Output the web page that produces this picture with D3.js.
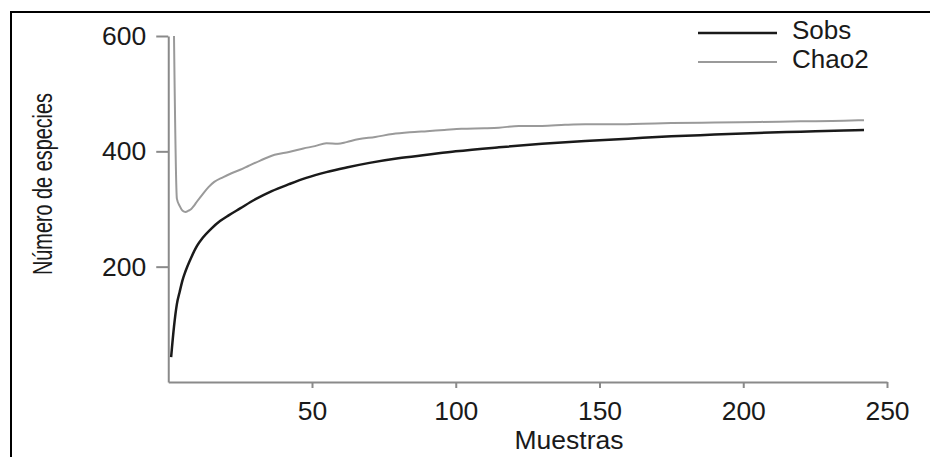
<!DOCTYPE html>
<html>
<head>
<meta charset="utf-8">
<script src="https://cdn.jsdelivr.net/npm/d3@7"></script>
<style>
  body { margin: 0; background: #fff; }
  text { font-family: "Liberation Sans", Arial, sans-serif; fill: #1a1a1a; }
</style>
</head>
<body>
<div id="chart"></div>
<script>
// Sobs (observed species) by number of samples
const sobsSamples = [1, 2, 3, 4, 5, 6, 8, 10, 12, 15, 18, 21, 25, 30, 36, 42, 48, 55, 62, 70, 80, 90, 100, 115, 130, 145, 160, 175, 190, 205, 220, 235, 242];
const sobsValues  = [43, 96, 135, 157, 177, 192, 216, 236, 250, 266, 279, 289, 301, 316, 331, 343, 354, 364, 372, 380, 388, 394, 400, 407, 413, 418, 422, 426, 429, 432, 434, 436, 437];

// Chao2 estimator by number of samples (first value runs off the top of the axis)
const chaoSamples = [2, 3, 4, 5, 6, 7, 8, 9, 10, 12, 14, 16, 19, 22, 25, 28, 32, 37, 42, 47, 51, 55, 59, 62, 66, 72, 78, 84, 90, 96, 102, 110, 115, 122, 130, 138, 145, 155, 165, 175, 190, 206, 220, 235, 242];
const chaoValues  = [600, 318, 305, 297, 295, 297, 300, 306, 313, 326, 338, 347, 355, 362, 368, 375, 384, 394, 399, 405, 409, 414, 413, 416, 421, 425, 430, 433, 435, 437, 439, 440, 441, 444, 444, 446, 447, 447, 448, 449, 450, 451, 452, 453, 454];

const xTicks = [50, 100, 150, 200, 250];
const yTicks = [200, 400, 600];
const seriesNames = ["Sobs", "Chao2"];

const width = 930, height = 457;

const svg = d3.select("#chart")
    .append("svg")
    .attr("width", width)
    .attr("height", height);

// outer frame (right and bottom edges fall outside the picture)
svg.append("rect")
    .attr("x", 11)
    .attr("y", 12)
    .attr("width", 960)
    .attr("height", 500)
    .attr("fill", "none")
    .attr("stroke", "#000")
    .attr("stroke-width", 2);

const xScale = d3.scaleLinear().domain([0, 250]).range([168.25, 887]);
const yScale = d3.scaleLinear().domain([0, 600]).range([382, 36]);

// X axis
const xAxis = svg.append("g")
    .attr("transform", `translate(0,${yScale(0)})`)
    .call(d3.axisBottom(xScale).tickValues(xTicks).tickSize(6).tickPadding(13).tickSizeOuter(0));

// Y axis
const yAxis = svg.append("g")
    .attr("transform", `translate(${xScale(0)},0)`)
    .call(d3.axisLeft(yScale).tickValues(yTicks).tickSize(12).tickPadding(10).tickSizeOuter(0));

[xAxis, yAxis].forEach(ax => {
    ax.select(".domain").attr("stroke", "#8a8a8a").attr("stroke-width", 2);
    ax.selectAll(".tick line").attr("stroke", "#8a8a8a").attr("stroke-width", 2);
    ax.selectAll(".tick text")
        .style("font-family", "'Liberation Sans', Arial, sans-serif")
        .style("font-size", "26.5px")
        .attr("fill", "#1a1a1a");
});

// Axis labels
svg.append("text")
    .attr("x", 569)
    .attr("y", 449)
    .attr("text-anchor", "middle")
    .style("font-size", "26.5px")
    .text("Muestras");

svg.append("text")
    .attr("transform", "translate(52,184) rotate(-90)")
    .attr("text-anchor", "middle")
    .attr("textLength", 182)
    .attr("lengthAdjust", "spacingAndGlyphs")
    .style("font-size", "28px")
    .text("Número de especies");

// Lines
const line = d3.line()
    .x(d => xScale(d[0]))
    .y(d => yScale(d[1]))
    .curve(d3.curveMonotoneX);

const chaoData = d3.zip(chaoSamples, chaoValues);
const sobsData = d3.zip(sobsSamples, sobsValues);

svg.append("path")
    .datum(chaoData)
    .attr("d", line)
    .attr("fill", "none")
    .attr("stroke", "#9a9a9a")
    .attr("stroke-width", 2);

svg.append("path")
    .datum(sobsData)
    .attr("d", line)
    .attr("fill", "none")
    .attr("stroke", "#1a1a1a")
    .attr("stroke-width", 2.5);

// Legend
const colors = ["#1a1a1a", "#9a9a9a"];
const legend = svg.append("g").attr("transform", "translate(698,33)");
seriesNames.forEach((name, i) => {
    const row = legend.append("g").attr("transform", `translate(0,${i * 29})`);
    row.append("line")
        .attr("x1", 0)
        .attr("x2", 79)
        .attr("stroke", colors[i])
        .attr("stroke-width", i === 0 ? 2.5 : 2);
    row.append("text")
        .attr("x", 94)
        .attr("y", 6)
        .style("font-size", "26px")
        .text(name);
});
</script>
</body>
</html>
